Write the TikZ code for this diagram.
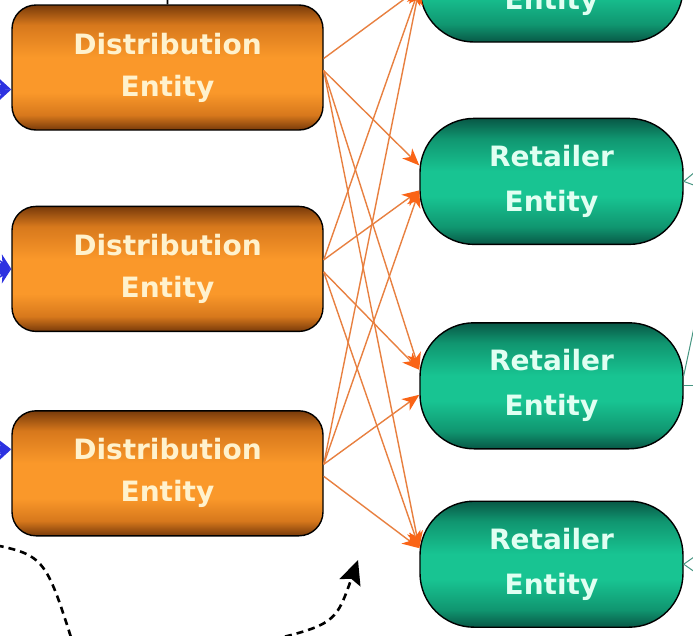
\documentclass[tikz,border=0pt]{standalone}
\usepackage{fontspec}
\setsansfont{DejaVu Sans}
\usepackage{xcolor}
\usepackage{tikz}
\usetikzlibrary{positioning,arrows.meta}

\definecolor{distdark}{RGB}{120,58,10}
\definecolor{distmid}{RGB}{215,120,28}
\definecolor{distlight}{RGB}{250,152,42}
\definecolor{distfont}{RGB}{255,242,205}
\definecolor{retdark}{RGB}{8,88,70}
\definecolor{retmid}{RGB}{16,150,112}
\definecolor{retlight}{RGB}{24,196,146}
\definecolor{retfont}{RGB}{225,255,242}
\definecolor{feedline}{RGB}{232,128,64}
\definecolor{feedhead}{RGB}{250,100,22}
\definecolor{supplyblue}{RGB}{45,50,225}
\definecolor{custline}{RGB}{70,150,130}

% the node box covers 25bp..75bp of these shadings
\pgfdeclareverticalshading{distshade}{100bp}{
  color(0bp)=(distdark); color(25bp)=(distdark); color(31bp)=(distmid);
  color(40bp)=(distlight); color(54bp)=(distlight); color(67bp)=(distmid);
  color(75bp)=(distdark); color(100bp)=(distdark)}
\pgfdeclareverticalshading{retshade}{100bp}{
  color(0bp)=(retdark); color(25bp)=(retdark); color(32bp)=(retmid);
  color(44bp)=(retlight); color(54bp)=(retlight); color(67bp)=(retmid);
  color(75bp)=(retdark); color(100bp)=(retdark)}

\begin{document}
\begin{tikzpicture}[
    x=1pt, y=-1pt,          % work in reference pixels, y going down
    node distance=75pt,
    dist/.style = {draw=black, line width=1.4pt, rounded corners=24pt,
      minimum width=311pt, minimum height=125pt, shading=distshade,
      text=distfont, align=center,
      font=\sffamily\bfseries\fontsize{28}{42}\selectfont},
    ret/.style = {draw=black, line width=1.4pt, rounded corners=54pt,
      minimum width=263pt, minimum height=126pt, shading=retshade,
      text=retfont, align=center,
      font=\sffamily\bfseries\fontsize{28}{45}\selectfont},
    feed/.style = {draw=feedline, line width=1.4pt,
      -{Stealth[length=17pt,width=14pt,inset=5pt,fill=feedhead,color=feedhead]}},
    supply/.style = {draw=supplyblue, line width=1.5pt,
      -{Stealth[length=16pt,width=13pt,fill=supplyblue]}},
    cust/.style = {draw=custline, line width=1pt},
    loopline/.style = {draw=black, line width=2.6pt, dash pattern=on 7pt off 5pt}
  ]
    \clip (0,0) rectangle (693,635);
    \fill[white] (0,0) rectangle (693,635);

    % distribution column
    \node[dist] (d1) at (167.5,67.5) {Distribution\\Entity};
    \node[dist] (d2) [below=of d1] {Distribution\\Entity};
    \node[dist] (d3) [below=78pt of d2] {Distribution\\Entity};

    % retailer column, top one cut off by the frame
    \node[ret] (r0) at (551.5,-21) {Retailer\\Entity};
    \node[ret] (r1) [below=of r0] {Retailer\\Entity};
    \node[ret] (r2) [below=77pt of r1] {Retailer\\Entity};
    \node[ret] (r3) [below=51pt of r2] {Retailer\\Entity};

    % every distribution entity feeds every retailer
    \foreach \a/\b in {d1/r0, d2/r0, d2/r1, d3/r0, d3/r1, d3/r2}
      \draw[feed] ([yshift=9pt]\a.east) -- ([yshift=-9pt]\b.west);
    \foreach \a/\b in {d1/r1, d1/r2, d1/r3, d2/r2, d2/r3, d3/r3}
      \draw[feed] ([yshift=-3pt]\a.east) -- ([yshift=16pt]\b.west);

    % incoming supply from the left (outside the frame)
    \foreach \d/\s/\ang in {d1/-22/160, d1/-22/200, d2/0/145, d2/0/180, d2/0/215, d3/24/165, d3/24/200} {
      \path ([yshift=\s pt]\d.west) ++(\ang:90pt) coordinate (src);
      \draw[supply] (src) -- ([yshift=\s pt]\d.west);
    }

    % outgoing lines to the customers on the right
    \foreach \r/\s/\ang in {r1/0/40, r1/0/-20, r2/10/78, r2/0/0, r3/0/35, r3/0/-35} {
      \path ([yshift=\s pt]\r.east) ++(\ang:60pt) coordinate (dst);
      \draw[cust] ([yshift=\s pt]\r.east) -- (dst);
    }

    % link leaving the top of the first distribution entity
    \coordinate (up) at (168,-30);
    \draw[black, line width=1.8pt] (d1.north) -- (up);

    % dashed return loop at the bottom
    \coordinate (la) at (-15,543);
    \coordinate (lb) at (45,555);
    \coordinate (lc) at (75,650);
    \draw[loopline] (la) .. controls (lb) .. (lc);
    \coordinate (ma) at (250,645);
    \coordinate (mb) at (335,625);
    \coordinate (mc) at (358,560);
    \draw[loopline, -{Stealth[length=24pt,width=22pt,inset=4pt]}] (ma) .. controls (mb) .. (mc);

  \end{tikzpicture}
\end{document}
